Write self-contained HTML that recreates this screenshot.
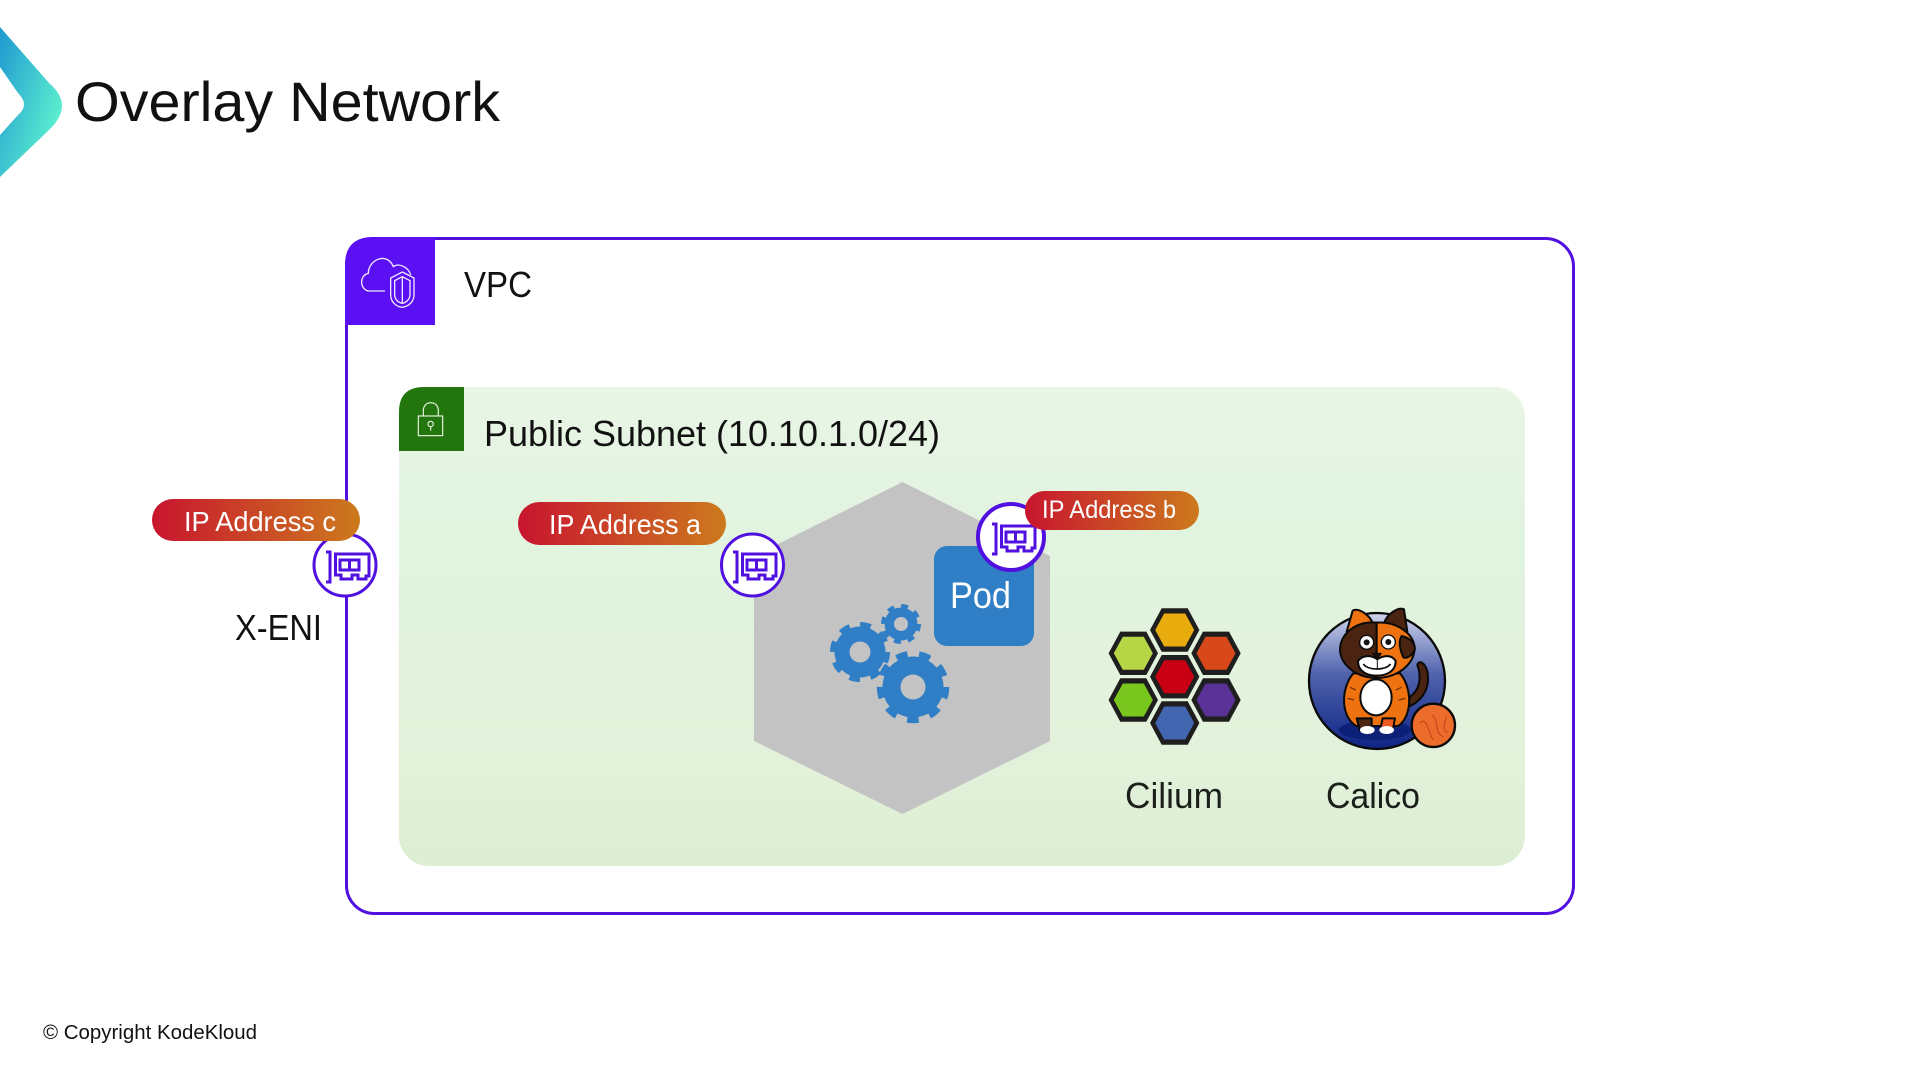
<!DOCTYPE html>
<html><head><meta charset="utf-8"><title>Overlay Network</title>
<style>html,body{margin:0;padding:0;background:#fff;width:1920px;height:1080px;overflow:hidden}svg{display:block}text{font-family:"Liberation Sans",sans-serif}</style>
</head><body>
<svg width="1920" height="1080" viewBox="0 0 1920 1080" xmlns="http://www.w3.org/2000/svg">
<defs>
<linearGradient id="chev" x1="0" y1="0" x2="1" y2="0.7"><stop offset="0" stop-color="#1f98d0"/><stop offset="1" stop-color="#5ff5cf"/></linearGradient>
<linearGradient id="pill" x1="0" y1="0" x2="1" y2="0"><stop offset="0" stop-color="#c8152f"/><stop offset="1" stop-color="#cc7a1d"/></linearGradient>
<linearGradient id="sub" x1="0" y1="0" x2="0" y2="1"><stop offset="0" stop-color="#e9f5e5"/><stop offset=".3" stop-color="#e1f4e0"/><stop offset=".8" stop-color="#e2f1da"/><stop offset="1" stop-color="#ddeed3"/></linearGradient>
<linearGradient id="sky" x1="0" y1="0" x2="0" y2="1"><stop offset="0" stop-color="#cfd3ec"/><stop offset=".45" stop-color="#4f63ad"/><stop offset="1" stop-color="#0f2484"/></linearGradient>
<g id="nic" fill="none" stroke="#5010e0" stroke-width="3">
<path d="M-19 -13H-15V17H-19"/>
<path d="M-9.5 -11H24V11H21V14H13V10H7V14H-4V10H-9.5Z"/>
<rect x="-5" y="-5" width="19" height="10"/><path d="M4.5 -5V5"/>
</g>
<g id="hx"><polygon points="-24.7,0 -13,-21.7 13,-21.7 24.7,0 13,21.7 -13,21.7" fill="#1e1e1e"/></g>
<polygon id="hi" points="-19.5,0 -10.5,-16.5 10.5,-16.5 19.5,0 10.5,16.5 -10.5,16.5"/>
</defs>

<path d="M0 27 L49 83 Q75 105 49 130 L0 177 V135 L18 115 Q30 105 18 93 L0 67Z" fill="url(#chev)"/>
<text x="75" y="121" font-size="56" fill="#111" textLength="425" lengthAdjust="spacingAndGlyphs">Overlay Network</text>

<rect x="346.5" y="238.5" width="1227" height="675" rx="28" fill="#fff" stroke="#5010e0" stroke-width="3"/>
<path d="M345 325V265Q345 237 373 237H435V325Z" fill="#5a10f2"/>
<g transform="translate(330 220) scale(.3333)" fill="none" stroke="#f0e8ff" stroke-width="4">
<path d="M165 213H118C92 213 84 168 115 160C115 118 172 95 190 140C205 128 235 140 242 165"/>
<path d="M217 156L252 174V225C252 245 235 260 217 262C198 260 182 245 182 225V174Z" fill="#5a10f2"/>
<path d="M217 170L240 182V224C240 238 228 248 217 250C205 248 194 238 194 224V182Z"/>
<path d="M217 172V248"/>
</g>
<text x="464" y="297" font-size="36" fill="#111" textLength="68" lengthAdjust="spacingAndGlyphs">VPC</text>

<rect x="399" y="387" width="1126" height="479" rx="30" fill="url(#sub)"/>
<path d="M399 451V412Q399 387 424 387H464V451Z" fill="#23750e"/>
<g transform="translate(330 220) scale(.3333)" fill="none" stroke="#e6f3e0" stroke-width="3.5">
<rect x="265" y="588" width="73" height="59"/>
<path d="M280 588V572C280 540 325 540 325 572V588"/>
<circle cx="302" cy="612" r="8"/><path d="M302 620V632"/>
</g>
<text x="484" y="446" font-size="36" fill="#111" textLength="456" lengthAdjust="spacingAndGlyphs">Public Subnet (10.10.1.0/24)</text>

<polygon points="902.5,482 1050,556 1050,741 902.5,814 754,741 754,556" fill="#c3c3c3"/>

<rect x="934" y="546" width="100" height="100" rx="13" fill="#2f7ec6"/>
<text x="950" y="608" font-size="37" fill="#fff" textLength="61" lengthAdjust="spacingAndGlyphs">Pod</text>

<g fill="#2f7ec6">
<circle cx="860" cy="652" r="25.5"/>
<circle cx="860" cy="652" r="27" fill="none" stroke="#2f7ec6" stroke-width="6" stroke-dasharray="10.6 10.6"/>
<circle cx="901" cy="624" r="16.5"/>
<circle cx="901" cy="624" r="17.5" fill="none" stroke="#2f7ec6" stroke-width="5" stroke-dasharray="6.87 6.87"/>
<circle cx="913" cy="687" r="30.5"/>
<circle cx="913" cy="687" r="33" fill="none" stroke="#2f7ec6" stroke-width="6.5" stroke-dasharray="11.52 11.52"/>
</g>
<circle cx="860" cy="652" r="10.5" fill="#c3c3c3"/>
<circle cx="901" cy="624" r="7" fill="#c3c3c3"/>
<circle cx="913" cy="687" r="12.5" fill="#c3c3c3"/>

<circle cx="345" cy="565" r="31" fill="#fff" stroke="#5010e0" stroke-width="3"/>
<use href="#nic" x="345" y="565"/>
<circle cx="752.5" cy="565" r="31" fill="#fff" stroke="#5010e0" stroke-width="3"/>
<use href="#nic" x="752" y="565"/>
<circle cx="1011" cy="537" r="33" fill="#fff" stroke="#5010e0" stroke-width="4"/>
<use href="#nic" x="1011" y="537"/>

<rect x="152" y="499" width="208" height="42" rx="21" fill="url(#pill)"/>
<text x="184" y="531" font-size="28" fill="#fff" textLength="152" lengthAdjust="spacingAndGlyphs">IP Address c</text>
<rect x="518" y="502" width="208" height="43" rx="21.5" fill="url(#pill)"/>
<text x="549" y="534" font-size="28" fill="#fff" textLength="152" lengthAdjust="spacingAndGlyphs">IP Address a</text>
<rect x="1025" y="491" width="174" height="39" rx="19.5" fill="url(#pill)"/>
<text x="1042" y="518" font-size="25" fill="#fff" textLength="134" lengthAdjust="spacingAndGlyphs">IP Address b</text>

<text x="235" y="640" font-size="36" fill="#111" textLength="87" lengthAdjust="spacingAndGlyphs">X-ENI</text>

<g>
<use href="#hx" x="1174.7" y="630"/><use href="#hi" x="1174.7" y="630" fill="#e9ac0e"/>
<use href="#hx" x="1133.3" y="653.3"/><use href="#hi" x="1133.3" y="653.3" fill="#b7d646"/>
<use href="#hx" x="1216" y="653.3"/><use href="#hi" x="1216" y="653.3" fill="#d9481a"/>
<use href="#hx" x="1174.7" y="676.7"/><use href="#hi" x="1174.7" y="676.7" fill="#c90014"/>
<use href="#hx" x="1133.3" y="700"/><use href="#hi" x="1133.3" y="700" fill="#79c71e"/>
<use href="#hx" x="1216" y="700"/><use href="#hi" x="1216" y="700" fill="#5a3197"/>
<use href="#hx" x="1174.7" y="723"/><use href="#hi" x="1174.7" y="723" fill="#4266b0"/>
</g>
<text x="1125" y="808" font-size="36" fill="#1a1f1a" textLength="98" lengthAdjust="spacingAndGlyphs">Cilium</text>
<text x="1326" y="808" font-size="36" fill="#1a1f1a" textLength="94" lengthAdjust="spacingAndGlyphs">Calico</text>

<!-- cat: coordinates are 3x about (1300,600) -->
<g transform="translate(1300 600) scale(.3333)" stroke="#0a0a0a" stroke-width="6" stroke-linejoin="round">
<circle cx="231" cy="243" r="204" fill="url(#sky)" stroke-width="7"/>
<ellipse cx="225" cy="390" rx="108" ry="30" fill="#0d2078" stroke="none"/>
<path d="M330 290C360 270 365 230 352 195C355 180 375 185 382 215C392 265 365 305 325 320Z" fill="#4a2410"/>
<path d="M160 220C125 260 118 345 168 378L295 378C340 345 335 260 300 220Z" fill="#ee7210"/>
<path d="M150 262L168 270M142 295L162 300M305 262L288 270M316 295L296 300" fill="none" stroke="#7a3208" stroke-width="4"/>
<ellipse cx="228" cy="292" rx="47" ry="54" fill="#fff"/>
<path d="M170 355H215V392H180Z" fill="#4a2410"/>
<path d="M248 355H285L278 392H240Z" fill="#ee5a20"/>
<ellipse cx="202" cy="390" rx="22" ry="12" fill="#fff" stroke="none"/>
<ellipse cx="260" cy="390" rx="22" ry="12" fill="#fff" stroke="none"/>
<path d="M140 95L158 32C175 22 210 45 218 70Z" fill="#ee7210"/>
<path d="M252 70C262 40 295 20 312 28L322 95Z" fill="#4a2410"/>
<path d="M230 68C170 62 120 100 120 150C122 195 170 234 230 234Z" fill="#4a2410"/>
<path d="M230 68C290 64 342 100 344 145C342 195 290 234 230 234Z" fill="#ee7210"/>
<path d="M305 108C335 115 347 135 344 150C337 167 320 177 310 172C300 150 295 125 305 108Z" fill="#4a2410"/>
<path d="M174 183C190 163 215 166 232 178C250 166 275 163 287 183C287 217 255 227 230 227C205 227 174 217 174 183Z" fill="#fff"/>
<path d="M190 192C205 212 255 212 272 192" fill="none" stroke-width="5"/>
<path d="M218 160H244L232 178Z" fill="#1a0f08" stroke-width="3"/>
<path d="M232 178V205" fill="none" stroke-width="3"/>
<circle cx="200" cy="127" r="21" fill="#fff" stroke-width="4"/><circle cx="200" cy="127" r="9" fill="#111" stroke="none"/>
<circle cx="265" cy="126" r="21" fill="#fff" stroke-width="4"/><circle cx="265" cy="126" r="9" fill="#111" stroke="none"/>
<circle cx="400" cy="376" r="65" fill="#ec6d2b" stroke-width="7"/>
<path d="M360 370C380 345 385 400 400 420M395 345C420 360 400 400 430 410M440 350C425 385 435 400 445 395" fill="none" stroke="#c9401a" stroke-width="3"/>
</g>

<text x="43" y="1039" font-size="20" fill="#111" textLength="214" lengthAdjust="spacingAndGlyphs">© Copyright KodeKloud</text>
</svg>
</body></html>
